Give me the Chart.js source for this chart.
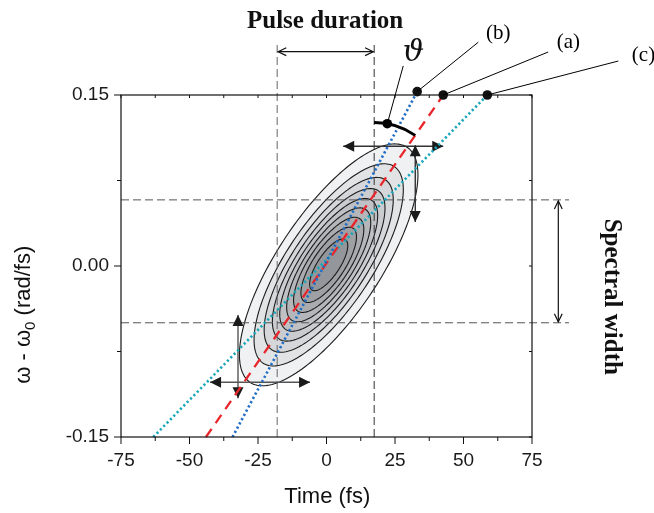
<!DOCTYPE html>
<html><head><meta charset="utf-8">
<script src="https://cdn.jsdelivr.net/npm/chart.js@4.4.1/dist/chart.umd.min.js"></script>
<style>html,body{margin:0;padding:0;background:#fff}#wrap{width:654px;height:513px}</style>
</head><body><div id="wrap"><canvas id="c" width="654" height="513"></canvas></div>
<script>
// ---- data ----
const xTickValues = [-75, -50, -25, 0, 25, 50, 75];
const yTickValues = [-0.15, 0, 0.15];
const lineA = [{x: -44.0, y: -0.15}, {x: 42.6, y: 0.15}];   // (a) red dashed
const lineB = [{x: -34.3, y: -0.15}, {x: 33.1, y: 0.153}];  // (b) blue dotted
const lineC = [{x: -63.2, y: -0.15}, {x: 58.7, y: 0.15}];   // (c) cyan dotted
const contourLevels = [0.1, 0.2, 0.3, 0.4, 0.5, 0.6, 0.7, 0.8, 0.9];
const contourCenter = {x: 0.8, y: 0.001};
const outerMajor = {x: 28.6, y: 0.1032};   // half-axis vectors of level-0.1 contour
const outerMinor = {x: -15.6, y: 0.0246};
const pulseEdges = [-18.0, 17.4];
const spectralEdges = [-0.0498, 0.058];
const topHArrow = [{x: 6.1, y: 0.105}, {x: 42.6, y: 0.105}];
const topVArrow = [{x: 32.4, y: 0.106}, {x: 32.4, y: 0.0387}];
const botHArrow = [{x: -42.5, y: -0.102}, {x: -6.0, y: -0.102}];
const botVArrow = [{x: -32.3, y: -0.043}, {x: -32.3, y: -0.116}];

// ---- styles / annotation placement ----
const contourFills = ['#f0f1f3','#e2e3e5','#d6d7da','#cacccf','#bfc1c4','#b4b6b9','#a9abae','#9ea0a4','#93969a'];
const labelPos = {
  b: {text: '(b)', x: 62.7, y: 0.2042, lx: 55.4, ly: 0.1963, end: 0},
  a: {text: '(a)', x: 88.3, y: 0.1965, lx: 80.9, ly: 0.1877, end: 1},
  c: {text: '(c)', x: 115.7, y: 0.1851, lx: 106.5, ly: 0.1798, end: 2}
};

const annot = {
  id: 'annot',
  beforeDatasetsDraw(chart) {
    const ctx = chart.ctx, X = chart.scales.x, Y = chart.scales.y;
    const px = v => X.getPixelForValue(v), py = v => Y.getPixelForValue(v);
    ctx.save();
    // contours
    const lnOuter = Math.log(1 / contourLevels[0]);
    contourLevels.forEach((L, i) => {
      const s = Math.sqrt(Math.log(1 / L) / lnOuter);
      ctx.beginPath();
      for (let k = 0; k <= 180; k++) {
        const p = k / 180 * 2 * Math.PI, c = Math.cos(p), sn = Math.sin(p);
        const xx = contourCenter.x + s * (outerMajor.x * c + outerMinor.x * sn);
        const yy = contourCenter.y + s * (outerMajor.y * c + outerMinor.y * sn);
        if (k === 0) ctx.moveTo(px(xx), py(yy)); else ctx.lineTo(px(xx), py(yy));
      }
      ctx.closePath();
      ctx.fillStyle = contourFills[i];
      ctx.fill();
      ctx.lineWidth = 1.1;
      ctx.strokeStyle = '#1c1c1c';
      ctx.stroke();
    });
    // dashed guides
    ctx.setLineDash([8, 4]);
    ctx.lineWidth = 1;
    pulseEdges.forEach((v, i) => {
      ctx.strokeStyle = i === 0 ? '#666' : '#333';
      ctx.beginPath(); ctx.moveTo(px(v), py(-0.15)); ctx.lineTo(px(v), py(0.196)); ctx.stroke();
    });
    ctx.strokeStyle = '#555';
    spectralEdges.forEach(v => {
      ctx.beginPath(); ctx.moveTo(px(-75), py(v)); ctx.lineTo(px(88.5), py(v)); ctx.stroke();
    });
    ctx.setLineDash([]);
    // filled-head arrows
    const headF = (x0, y0, x1, y1) => {
      const a = Math.atan2(y1 - y0, x1 - x0), L = 11, W = 5.5;
      ctx.beginPath();
      ctx.moveTo(x1, y1);
      ctx.lineTo(x1 - L * Math.cos(a) + W * Math.sin(a), y1 - L * Math.sin(a) - W * Math.cos(a));
      ctx.lineTo(x1 - L * Math.cos(a) - W * Math.sin(a), y1 - L * Math.sin(a) + W * Math.cos(a));
      ctx.closePath(); ctx.fill();
    };
    const dblF = (pts, col) => {
      const x0 = px(pts[0].x), y0 = py(pts[0].y), x1 = px(pts[1].x), y1 = py(pts[1].y);
      ctx.strokeStyle = col; ctx.fillStyle = '#1a1a1a'; ctx.lineWidth = 1.4;
      ctx.beginPath(); ctx.moveTo(x0, y0); ctx.lineTo(x1, y1); ctx.stroke();
      headF(x0, y0, x1, y1); headF(x1, y1, x0, y0);
    };
    dblF(topHArrow, '#333'); dblF(topVArrow, '#333');
    dblF(botHArrow, '#555'); dblF(botVArrow, '#555');
    // open-head arrows
    const headO = (x0, y0, x1, y1) => {
      const a = Math.atan2(y1 - y0, x1 - x0), L = 9, t = 0.45;
      ctx.beginPath();
      ctx.moveTo(x1 - L * Math.cos(a - t), y1 - L * Math.sin(a - t));
      ctx.lineTo(x1, y1);
      ctx.lineTo(x1 - L * Math.cos(a + t), y1 - L * Math.sin(a + t));
      ctx.stroke();
    };
    const dblO = (x0, y0, x1, y1) => {
      ctx.strokeStyle = '#111'; ctx.lineWidth = 1.2;
      ctx.beginPath(); ctx.moveTo(x0, y0); ctx.lineTo(x1, y1); ctx.stroke();
      headO(x0, y0, x1, y1); headO(x1, y1, x0, y0);
    };
    dblO(px(pulseEdges[0]) + 1, py(0.188), px(pulseEdges[1]) - 1, py(0.188));
    dblO(px(84.6), py(spectralEdges[1]) + 1, px(84.6), py(spectralEdges[0]) - 1);
    ctx.restore();
  },
  afterDatasetsDraw(chart) {
    const ctx = chart.ctx, X = chart.scales.x, Y = chart.scales.y, A = chart.chartArea;
    const px = v => X.getPixelForValue(v), py = v => Y.getPixelForValue(v);
    ctx.save();
    // frame
    ctx.strokeStyle = '#111'; ctx.lineWidth = 1.2;
    ctx.strokeRect(A.left, A.top, A.right - A.left, A.bottom - A.top);
    // ticks
    ctx.lineWidth = 1;
    for (let v = -75; v <= 75.001; v += 12.5) {
      const major = Math.abs(v % 25) < 1e-6, x = px(v);
      ctx.beginPath(); ctx.moveTo(x, A.bottom); ctx.lineTo(x, A.bottom + (major ? 7 : 4)); ctx.stroke();
      ctx.beginPath(); ctx.moveTo(x, A.top); ctx.lineTo(x, A.top + 3); ctx.stroke();
    }
    for (let k = -2; k <= 2; k++) {
      const v = k * 0.075, y = py(v), major = k % 2 === 0;
      ctx.beginPath(); ctx.moveTo(A.left, y); ctx.lineTo(A.left - (major ? 7 : 4), y); ctx.stroke();
      ctx.beginPath(); ctx.moveTo(A.right, y); ctx.lineTo(A.right - 3, y); ctx.stroke();
    }
    // theta arc
    const cx = px(pulseEdges[1]);
    const slope = (lineA[1].y - lineA[0].y) / (lineA[1].x - lineA[0].x);
    const cy = py(lineA[0].y + slope * (pulseEdges[1] - lineA[0].x));
    const angRed = Math.atan2(py(lineA[1].y) - py(lineA[0].y), px(lineA[1].x) - px(lineA[0].x));
    const R = 72;
    ctx.strokeStyle = '#000'; ctx.lineWidth = 3;
    ctx.beginPath(); ctx.arc(cx, cy, R, -Math.PI / 2, angRed, false); ctx.stroke();
    const ad = -Math.PI / 2 + 10.5 * Math.PI / 180;
    const dx = cx + R * Math.cos(ad), dy = cy + R * Math.sin(ad);
    ctx.lineWidth = 1;
    ctx.beginPath(); ctx.moveTo(dx, dy); ctx.lineTo(px(28.0), py(0.1755)); ctx.stroke();
    ctx.fillStyle = '#000';
    ctx.beginPath(); ctx.arc(dx, dy, 4.8, 0, 2 * Math.PI); ctx.fill();
    // leaders to (a)(b)(c)
    const ends = [lineB[1], lineA[1], lineC[1]];
    Object.values(labelPos).forEach(l => {
      const e = ends[l.end];
      ctx.beginPath(); ctx.moveTo(px(e.x), py(e.y)); ctx.lineTo(px(l.lx), py(l.ly)); ctx.stroke();
      ctx.font = '21px "Liberation Serif", serif';
      ctx.textAlign = 'center'; ctx.textBaseline = 'middle';
      ctx.fillText(l.text, px(l.x), py(l.y));
    });
    // texts
    ctx.fillStyle = '#111';
    ctx.font = 'italic 30px "DejaVu Serif", "Liberation Serif", serif';
    ctx.textAlign = 'center'; ctx.textBaseline = 'middle';
    ctx.fillText('\u03D1', px(31.7), py(0.1868));
    ctx.font = 'bold 25px "Liberation Serif", serif';
    ctx.textBaseline = 'alphabetic';
    ctx.fillText('Pulse duration', px(-0.5), py(0.2088));
    ctx.save();
    ctx.translate(px(104.0), py(-0.027));
    ctx.rotate(Math.PI / 2);
    ctx.textBaseline = 'middle';
    ctx.fillText('Spectral width', 0, 0);
    ctx.restore();
    // axis titles
    ctx.font = '22px "Liberation Sans", Arial, sans-serif';
    ctx.textBaseline = 'middle';
    ctx.fillText('Time (fs)', px(0.3), py(-0.2022));
    ctx.save();
    ctx.translate(px(-111.1), py(-0.0428));
    ctx.rotate(-Math.PI / 2);
    const big = '22px "Liberation Sans", Arial, sans-serif', small = '15px "Liberation Sans", Arial, sans-serif';
    const p1 = '\u03C9 - \u03C9', p2 = '0', p3 = ' (rad/fs)';
    ctx.font = big; const w1 = ctx.measureText(p1).width, w3 = ctx.measureText(p3).width;
    ctx.font = small; const w2 = ctx.measureText(p2).width;
    let x0 = -(w1 + w2 + w3) / 2;
    ctx.textAlign = 'left'; ctx.textBaseline = 'alphabetic';
    ctx.font = big; ctx.fillText(p1, x0, 8);
    ctx.font = small; ctx.fillText(p2, x0 + w1, 13);
    ctx.font = big; ctx.fillText(p3, x0 + w1 + w2, 8);
    ctx.restore();
    ctx.restore();
  }
};

new Chart(document.getElementById('c'), {
  type: 'scatter',
  data: {
    datasets: [
      {label: 'ends', data: [lineB[1], lineA[1], lineC[1]], pointRadius: 4.8, pointBackgroundColor: '#111', pointBorderWidth: 0, showLine: false, clip: false},
      {label: '(b)', data: lineB, showLine: true, borderColor: '#1f6dc4', borderWidth: 2.6, borderDash: [2.2, 2.6], pointRadius: 0, clip: false},
      {label: '(a)', data: lineA, showLine: true, borderColor: '#e8262b', borderWidth: 2.3, borderDash: [10, 7], pointRadius: 0, clip: false},
      {label: '(c)', data: lineC, showLine: true, borderColor: '#17a7b8', borderWidth: 2.6, borderDash: [2.2, 2.6], pointRadius: 0, clip: false}
    ]
  },
  options: {
    responsive: false, animation: false, devicePixelRatio: 1,
    layout: {padding: {top: 95, right: 122, left: 0, bottom: 0}},
    plugins: {legend: {display: false}, tooltip: {enabled: false}},
    scales: {
      x: {
        type: 'linear', min: -75, max: 75,
        afterBuildTicks: s => { s.ticks = xTickValues.map(v => ({value: v})); },
        afterFit: s => { s.height = 76; },
        grid: {display: false, drawTicks: false}, border: {display: false},
        ticks: {padding: 12, autoSkip: false, maxRotation: 0, color: '#1a1a1a',
          font: {family: '"Liberation Sans", Arial, sans-serif', size: 19}, callback: v => String(v)}
      },
      y: {
        type: 'linear', min: -0.15, max: 0.15,
        afterBuildTicks: s => { s.ticks = yTickValues.map(v => ({value: v})); },
        afterFit: s => { s.width = 121; },
        grid: {display: false, drawTicks: false}, border: {display: false},
        ticks: {padding: 12, autoSkip: false, color: '#1a1a1a',
          font: {family: '"Liberation Sans", Arial, sans-serif', size: 19}, callback: v => Number(v).toFixed(2)}
      }
    }
  },
  plugins: [annot]
});
</script></body></html>
